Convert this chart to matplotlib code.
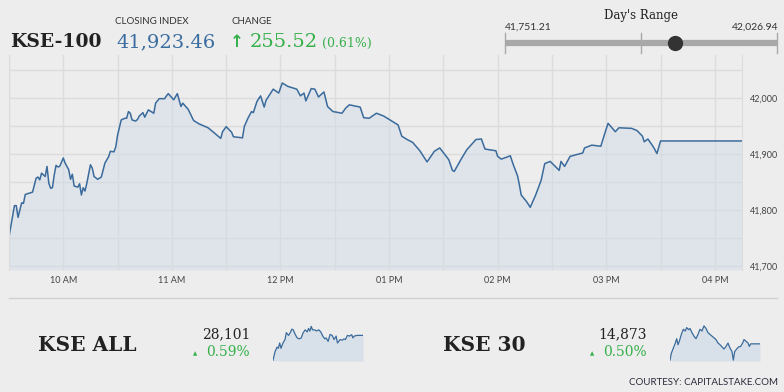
import matplotlib
matplotlib.use('Agg')
import matplotlib.pyplot as plt
from matplotlib.lines import Line2D

# ---- data (minutes after 09:30, index level) ----
kse100_min = [0, 3, 4, 5, 7, 8, 9, 11, 13, 15, 16, 17, 18, 20, 21, 22, 23, 24, 25, 26,
              27, 28, 30, 31, 33, 34, 35, 36, 38, 39, 40, 41, 42, 43, 45, 46, 47, 49, 51, 53,
              55, 56, 58, 59, 60, 62, 64, 65, 66, 67, 68, 70, 71, 72, 74, 75, 77, 80, 81, 83,
              86, 87, 88, 91, 93, 95, 96, 99, 102, 105, 110, 113, 117, 118, 120, 123, 124, 129, 130, 132,
              134, 135, 137, 139, 141, 142, 146, 149, 151, 154, 159, 161, 163, 164, 167, 169, 171, 174, 176, 179,
              184, 186, 188, 194, 196, 199, 203, 207, 209, 212, 215, 217, 220, 223, 227, 231, 235, 238, 243, 245,
              246, 250, 253, 258, 261, 263, 269, 270, 272, 277, 278, 279, 281, 282, 283, 286, 288, 291, 294, 296,
              299, 304, 305, 307, 310, 317, 318, 322, 327, 329, 331, 335, 337, 344, 347, 350, 351, 353, 356, 358,
              360, 405]
kse100_val = [41752, 41808, 41808, 41787, 41813, 41812, 41828, 41830, 41832, 41857, 41859, 41854, 41866, 41860, 41878, 41848, 41839, 41840, 41863, 41880,
              41877, 41878, 41893, 41884, 41872, 41855, 41864, 41843, 41841, 41847, 41827, 41840, 41834, 41848, 41881, 41875, 41860, 41855, 41859, 41884,
              41895, 41905, 41904, 41913, 41934, 41961, 41964, 41964, 41976, 41973, 41961, 41959, 41962, 41968, 41974, 41966, 41979, 41973, 41991, 41999,
              41999, 42004, 42008, 41997, 42008, 41985, 41991, 41980, 41960, 41954, 41947, 41939, 41928, 41940, 41949, 41939, 41931, 41929, 41949, 41964,
              41976, 41974, 41994, 42004, 41984, 41996, 42016, 42009, 42027, 42021, 42016, 42004, 42009, 41995, 42017, 42016, 42002, 42011, 41985, 41976,
              41973, 41982, 41988, 41984, 41965, 41964, 41973, 41968, 41964, 41958, 41952, 41932, 41926, 41921, 41906, 41886, 41905, 41911, 41890, 41871,
              41869, 41892, 41908, 41926, 41927, 41909, 41906, 41896, 41891, 41897, 41887, 41878, 41861, 41845, 41827, 41815, 41805, 41827, 41853, 41883,
              41887, 41871, 41887, 41878, 41896, 41902, 41911, 41916, 41914, 41935, 41955, 41940, 41947, 41946, 41942, 41932, 41922, 41927, 41913, 41901,
              41923.46, 41923.46]

kseall_min = [0, 9, 18, 24, 30, 36, 45, 54, 60, 70, 76, 85, 91, 100, 109, 118, 127, 136, 145, 154,
              160, 166, 172, 178, 187, 196, 206, 215, 224, 233, 239, 248, 257, 266, 275, 284, 290, 296, 302, 311,
              320, 326, 335, 345, 354, 360, 366, 378, 405]
kseall_val = [27993, 28030, 28050, 28045, 28068, 28045, 28068, 28083, 28113, 28101, 28110, 28128, 28125, 28105, 28090, 28086, 28090, 28113, 28125, 28116,
              28131, 28120, 28140, 28125, 28125, 28120, 28125, 28116, 28098, 28086, 28090, 28075, 28105, 28101, 28083, 28098, 28068, 28075, 28083, 28080,
              28086, 28083, 28101, 28098, 28104, 28090, 28098, 28101, 28101]

kse30_min = [0, 6, 15, 24, 30, 36, 42, 51, 60, 69, 75, 84, 90, 99, 108, 117, 126, 135, 144, 153,
             162, 171, 180, 189, 198, 207, 216, 225, 234, 243, 252, 261, 270, 279, 285, 291, 300, 309, 318, 327,
             333, 342, 351, 357, 363, 375, 405]
kse30_val = [14835, 14851, 14863, 14875, 14885, 14871, 14879, 14895, 14907, 14903, 14911, 14906, 14909, 14899, 14891, 14885, 14895, 14907, 14903, 14915,
             14909, 14899, 14895, 14891, 14887, 14883, 14875, 14871, 14866, 14861, 14867, 14875, 14863, 14855, 14835, 14855, 14861, 14866, 14867, 14875,
             14883, 14879, 14875, 14867, 14873, 14873, 14873]

hour_ticks = [30, 90, 150, 210, 270, 330, 390]
hour_labels = ['10 AM', '11 AM', '12 PM', '01 PM', '02 PM', '03 PM', '04 PM']
y_ticks = [41700, 41800, 41900, 42000]

day_low, day_high, close = 41751.21, 42026.94, 41923.46

BG = '#ededed'
GRID = '#dcdcdc'
LINE = '#3a6b9c'
GREEN = '#35b04a'
BLUE = '#3a6d9f'
W, H = 784, 392


def fx(x):
    return x / W


def fy(y):
    return 1 - y / H


fig = plt.figure(figsize=(7.84, 3.92), dpi=100, facecolor=BG)

# ---- main chart ----
ax = fig.add_axes([fx(9), fy(270), (742 - 9) / W, (270 - 55) / H])
ax.set_facecolor(BG)
ax.fill_between(kse100_min, kse100_val, 41693, color='#cfdbe7', alpha=0.45, lw=0)
ax.plot(kse100_min, kse100_val, color=LINE, lw=1.1)
ax.set_xlim(0, 405)
ax.set_ylim(41693, 42077)
ax.set_xticks(hour_ticks)
ax.set_xticklabels(hour_labels)
ax.set_xticks(range(0, 405, 30), minor=True)
ax.set_yticks(y_ticks)
ax.set_yticklabels([f'{v:,}' for v in y_ticks])
ax.set_yticks(range(41700, 42077, 50), minor=True)
ax.yaxis.tick_right()
ax.grid(True, which='both', color=GRID, lw=1)
ax.set_axisbelow(True)
ax.tick_params(which='both', length=0)
ax.tick_params(axis='x', labelsize=6.5, labelcolor='#444444', pad=4)
ax.tick_params(axis='y', labelsize=6.5, labelcolor='#444444', pad=6)
for lab in ax.get_xticklabels() + ax.get_yticklabels():
    lab.set_family('Lato')
for s in ['top', 'bottom']:
    ax.spines[s].set_visible(False)
for s in ['left', 'right']:
    ax.spines[s].set_color(GRID)

# ---- header ----
fig.text(fx(10), fy(47), 'KSE-100', family='DejaVu Serif', fontsize=13.5, color='#222222', weight='bold')
fig.text(fx(115), fy(24), 'CLOSING INDEX', family='Lato', fontsize=7, color='#333333')
fig.text(fx(116), fy(47), f'{close:,.2f}', family='DejaVu Serif', fontsize=14, color=BLUE)
fig.text(fx(231), fy(24), 'CHANGE', family='Lato', fontsize=7, color='#333333')
fig.text(fx(230), fy(47), '\u2191', family='DejaVu Sans', fontsize=12, color=GREEN, weight='bold')
fig.text(fx(250), fy(47), '255.52', family='DejaVu Serif', fontsize=14, color=GREEN)
fig.text(fx(322), fy(47), '(0.61%)', family='DejaVu Serif', fontsize=9, color=GREEN)

fig.text(fx(641), fy(19), "Day's Range", family='DejaVu Serif', fontsize=8.5, color='#222222', ha='center')
fig.text(fx(505), fy(30), f'{day_low:,.2f}', family='Lato', fontsize=7.5, color='#333333')
fig.text(fx(778), fy(30), f'{day_high:,.2f}', family='Lato', fontsize=7.5, color='#333333', ha='right')

rax = fig.add_axes([fx(505), fy(53), (777 - 505) / W, 20 / H])
rax.set_xlim(day_low, day_high)
rax.set_ylim(0, 1)
rax.axis('off')
rax.plot([day_low, day_high], [0.5, 0.5], color='#a8a8a8', lw=4.5, solid_capstyle='butt')
for v in [day_low, (day_low + day_high) / 2, day_high]:
    rax.plot([v, v], [0, 1], color='#a8a8a8', lw=1, clip_on=False)
rax.plot([close], [0.5], 'o', color='#333333', ms=10, clip_on=False)

# ---- bottom strip ----
fig.add_artist(Line2D([fx(9), fx(777)], [fy(298), fy(298)], transform=fig.transFigure,
                      color='#d0d0d0', lw=1))


def mini(x0, name, name_x, last, pct, mins, vals, lo, hi):
    fig.text(fx(name_x), fy(351), name, family='DejaVu Serif', fontsize=14.5, color='#222222', weight='bold')
    fig.text(fx(x0 - 23), fy(338), last, family='DejaVu Serif', fontsize=10, color='#222222', ha='right')
    fig.text(fx(x0 - 23), fy(356), pct, family='DejaVu Serif', fontsize=10, color=GREEN, ha='right')
    fig.text(fx(x0 - 80), fy(355), '\u25b2', family='DejaVu Sans', fontsize=4, color=GREEN)
    sax = fig.add_axes([fx(x0), fy(361), 90 / W, 36 / H])
    sax.fill_between(mins, vals, lo, color='#d8e0e9', lw=0)
    sax.plot(mins, vals, color=LINE, lw=0.9)
    sax.set_xlim(0, 405)
    sax.set_ylim(lo, hi)
    sax.axis('off')


mini(273, 'KSE ALL', 38, '28,101', '0.59%', kseall_min, kseall_val, 27990, 28146)
mini(670, 'KSE 30', 443, '14,873', '0.50%', kse30_min, kse30_val, 14833, 14917)

fig.text(fx(778), fy(385), 'COURTESY: CAPITALSTAKE.COM', family='Lato', fontsize=7,
         color='#2a2a3a', ha='right')

fig.savefig('out.png', dpi=100, facecolor=BG)
